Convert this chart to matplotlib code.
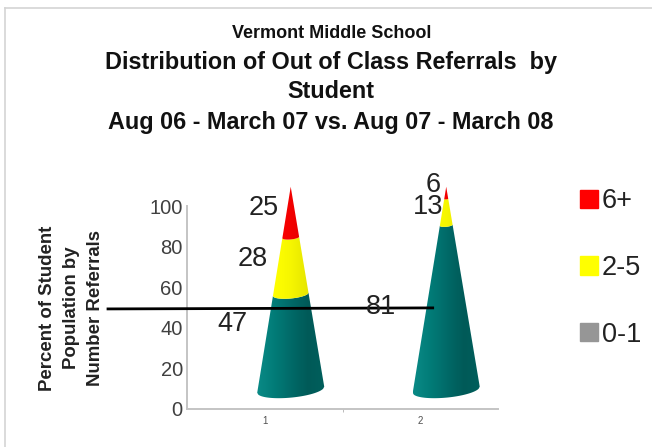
import numpy as np
import matplotlib
matplotlib.use('Agg')
import matplotlib.pyplot as plt
from matplotlib.lines import Line2D
from matplotlib.patches import Patch, Polygon
from matplotlib.colors import LinearSegmentedColormap

plt.rcParams['font.family'] = ['Liberation Sans', 'DejaVu Sans']

categories = ['1', '2']
series_names = ['0-1', '2-5', '6+']
low_values = [47, 81]
mid_values = [28, 13]
high_values = [25, 6]
y_ticks = [0, 20, 40, 60, 80, 100]

# where the value labels sit
label_x = [[0.79, 0.925, 0.995], [1.75, 2.05, 2.08]]
label_y = [[42, 74, 99], [50, 99.5, 110.5]]

trend_x = [-0.008, 2.08]
trend_y = [49.3, 49.8]

legend_colors = {'6+': '#ff0000', '2-5': '#ffff00', '0-1': '#969696'}
cone_ramps = [
    ['#0a8a86', '#027c78', '#016a68', '#005a58', '#015f5c'],
    ['#f4f400', '#ffff00', '#f6f600', '#e6e600', '#e0e000'],
    ['#ff1010', '#ff0000', '#f20000', '#e00000', '#d80000'],
]

# 3d look of the cones, in axis units
cone_shift = 0.167
base_level = 9.5
half_width = 0.2155
sag = 3.9
tilt = 1.5

fig = plt.figure(figsize=(6.52, 4.47), dpi=100)
ax = fig.add_axes([187 / 652, 38 / 447, 311 / 652, 203 / 447])
ax.set_xlim(0.5, 2.5)
ax.set_ylim(0, 100)


def ring(center, level):
    # front edge of the cone at a given stack height
    f = level / 100
    t = np.linspace(-1, 1, 60)
    x = center + half_width * (1 - f) * t
    y = base_level + level + (1 - f) * (tilt * t - sag * np.sqrt(1 - t ** 2))
    return x, y


for i, cat in enumerate(categories):
    center = i + 1 + cone_shift
    stacks = [low_values[i], mid_values[i], high_values[i]]
    bottom = 0
    for j, val in enumerate(stacks):
        x0, y0 = ring(center, bottom)
        x1, y1 = ring(center, bottom + val)
        pts = np.column_stack([np.r_[x0, x1[::-1]], np.r_[y0, y1[::-1]]])
        poly = Polygon(pts, closed=True, transform=ax.transData, fc='none', ec='none',
                       clip_on=False)
        ax.add_patch(poly)
        cmap = LinearSegmentedColormap.from_list('ramp', cone_ramps[j])
        grad = np.linspace(0, 1, 128).reshape(1, -1)
        im = ax.imshow(grad, cmap=cmap, aspect='auto', zorder=2,
                       extent=[center - half_width, center + half_width, 0, 115])
        im.set_clip_box(fig.bbox)
        im.set_clip_path(poly)
        bottom += val
        ax.text(label_x[i][j], label_y[i][j], str(val), fontsize=19.5, color='#222222',
                ha='center', va='center', zorder=4)

ax.set_xlim(0.5, 2.5)
ax.set_ylim(0, 100)

ax.plot(trend_x, trend_y, color='black', lw=2, clip_on=False, zorder=3)

for s in ['top', 'right']:
    ax.spines[s].set_visible(False)
for s in ['left', 'bottom']:
    ax.spines[s].set_color('#c4c4c4')
    ax.spines[s].set_linewidth(1.4)

ax.set_yticks(y_ticks)
ax.tick_params(axis='y', length=0, labelsize=14.5, labelcolor='#404040', pad=3)
ax.set_xticks([1, 2])
ax.set_xticklabels(categories)
ax.tick_params(axis='x', length=0, labelsize=7, labelcolor='#505050', pad=5)
ax.set_xticks([1.5], minor=True)
ax.tick_params(axis='x', which='minor', length=2, color='#b0b0b0')

fig.text(71.5 / 652, 1 - 308 / 447, 'Percent of Student\nPopulation by\nNumber Referrals',
         rotation=90, ha='center', va='center', fontsize=13.4, fontweight='bold',
         color='#222222', linespacing=1.5)

fig.text(332 / 652, 1 - 33 / 447, 'Vermont Middle School', ha='center', va='center',
         fontsize=13, fontweight='bold', color='#111111')
fig.text(331 / 652, 1 - 62 / 447, 'Distribution of Out of Class Referrals  by', ha='center',
         va='center', fontsize=16.8, fontweight='bold', color='#111111')
fig.text(331 / 652, 1 - 92 / 447, 'Student', ha='center', va='center',
         fontsize=16.8, fontweight='bold', color='#111111')
fig.text(331 / 652, 1 - 123 / 447, 'Aug 06 - March 07 vs. Aug 07 - March 08', ha='center',
         va='center', fontsize=16.8, fontweight='bold', color='#111111')

handles = [Patch(color=legend_colors[n], label=n) for n in series_names[::-1]]
fig.legend(handles=handles, loc='upper left', bbox_to_anchor=(580 / 652, 1 - 188.5 / 447),
           frameon=False, fontsize=19.5, labelspacing=1.5, handlelength=0.66,
           handleheight=0.66, handletextpad=0.15, borderpad=0, borderaxespad=0,
           labelcolor='#222222')

# faint frame of the pasted slide
fig.add_artist(Line2D([5 / 652, 1], [1 - 8 / 447, 1 - 8 / 447], color='#d4d4d4', lw=1.2))
fig.add_artist(Line2D([5 / 652, 5 / 652], [0, 1 - 8 / 447], color='#d4d4d4', lw=1.2))

fig.savefig('out.png', dpi=100)
